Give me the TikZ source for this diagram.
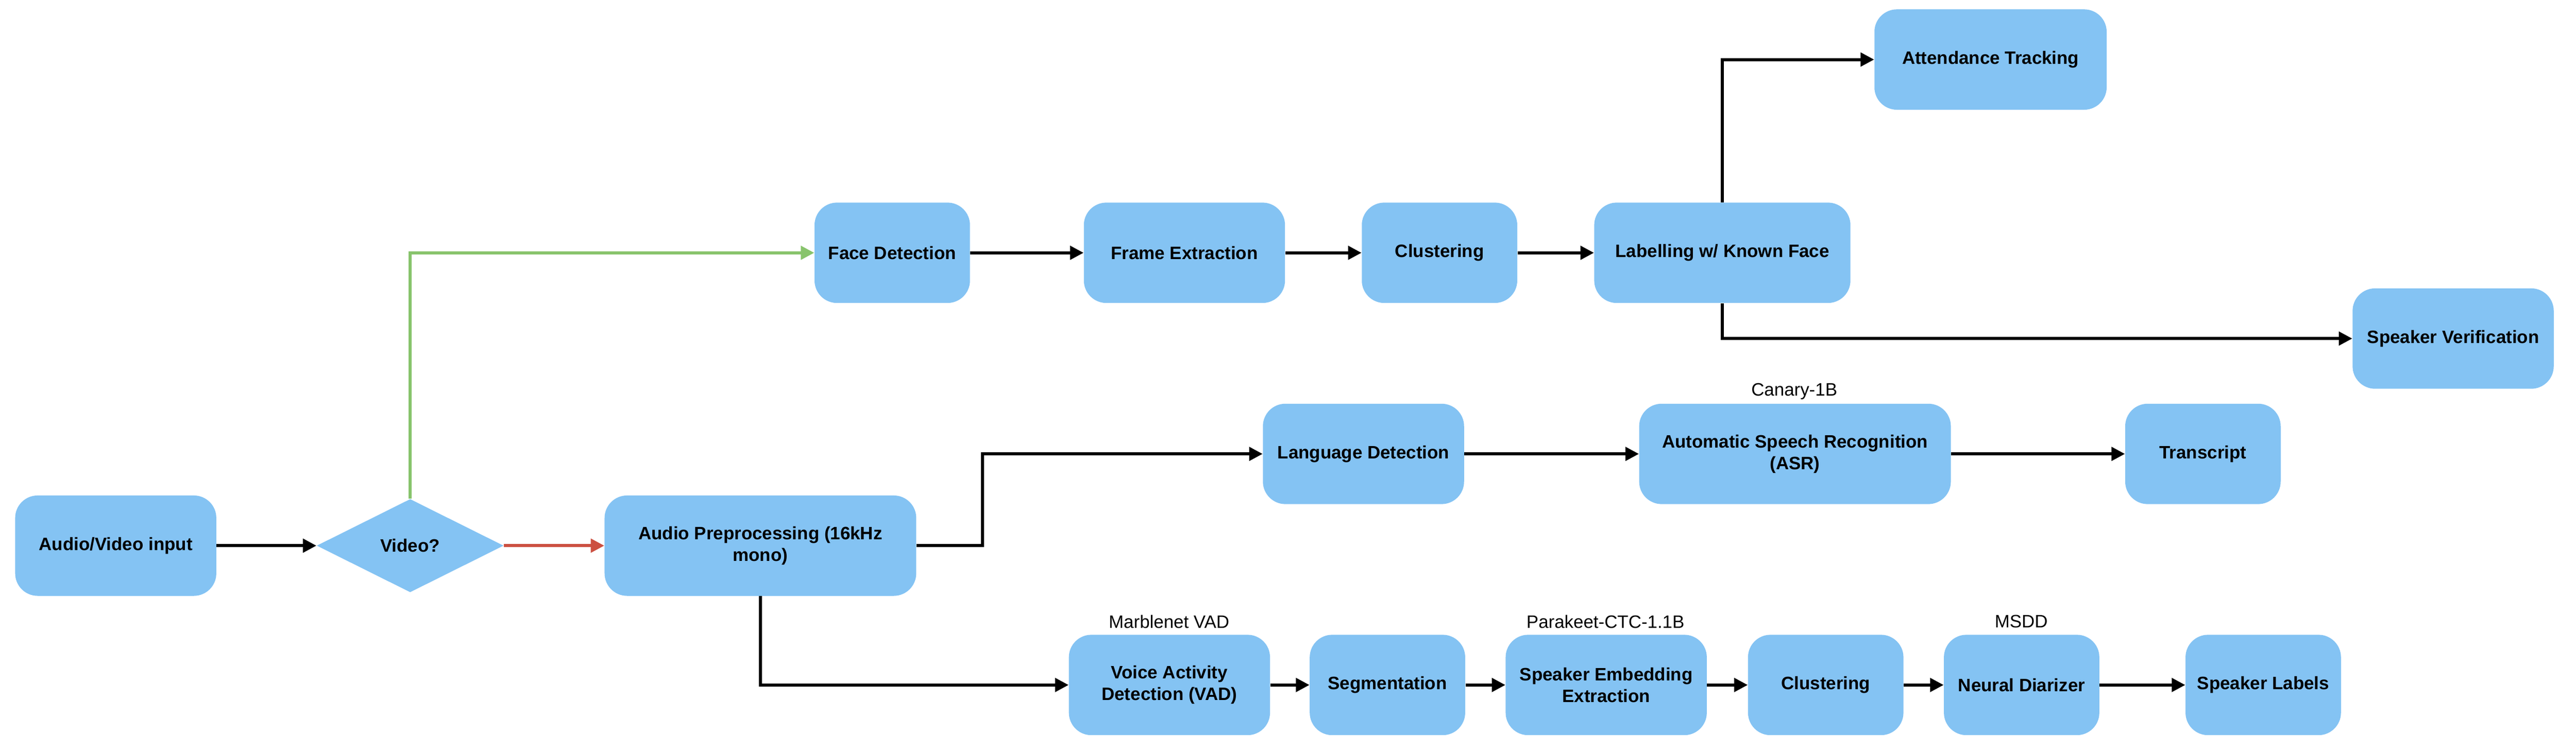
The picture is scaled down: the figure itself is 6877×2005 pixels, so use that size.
\documentclass[tikz,border=0pt]{standalone}
\usepackage{fontspec}
\setmainfont{Liberation Sans}
\usetikzlibrary{arrows.meta,shapes.geometric}
\definecolor{boxblue}{HTML}{84C3F3}
\definecolor{arrred}{HTML}{CC5041}
\definecolor{arrgreen}{HTML}{88C46C}
\tikzset{
  proc/.style={fill=boxblue, rounded corners=15pt, inner sep=0pt, align=center,
    minimum height=67pt, font=\fontsize{12pt}{14.5pt}\selectfont\bfseries},
  wA/.style={minimum width=103.75pt},
  wB/.style={minimum width=134.25pt},
  wC/.style={minimum width=171pt},
  wD/.style={minimum width=208pt},
  decision/.style={diamond, fill=boxblue, inner sep=0pt, minimum width=124.75pt,
    minimum height=62.25pt, font=\fontsize{12pt}{14.5pt}\selectfont\bfseries},
  note/.style={inner sep=0pt, font=\fontsize{12pt}{14.5pt}\selectfont},
  conn/.style={line width=2pt, -{Triangle[length=9pt,width=9pt]}},
}
\begin{document}
\begin{tikzpicture}[x=0.25pt, y=-0.25pt]
\useasboundingbox (0,0) rectangle (6877,2005);
% nodes
\node[proc,wB] (inp) at (309,1457) {Audio/Video input};
\node[decision] (dia) at (1095,1457) {Video?};
\node[proc,wD] (pre) at (2030,1457) {Audio Preprocessing (16kHz\\mono)};
\node[proc,wA] (face) at (2382,675) {Face Detection};
\node[proc,wB] (frame) at (3162,675) {Frame Extraction};
\node[proc,wA] (clus1) at (3843,675) {Clustering};
\node[proc,wC] (lab) at (4598,675) {Labelling w/ Known Face};
\node[proc,minimum width=155pt] (att) at (5314,159) {Attendance Tracking};
\node[proc,wB] (ver) at (6549,904) {Speaker Verification};
\node[proc,wB] (lang) at (3640,1212) {Language Detection};
\node[proc,wD] (asr) at (4792,1212) {Automatic Speech Recognition\\(ASR)};
\node[note] (asrn) at (4790,1045) {Canary-1B};
\node[proc,wA] (trans) at (5881,1212) {Transcript};
\node[proc,wB] (vad) at (3122,1829) {Voice Activity\\Detection (VAD)};
\node[note] (vadn) at (3121,1660) {Marblenet VAD};
\node[proc,wA] (seg) at (3704,1829) {Segmentation};
\node[proc,wB] (emb) at (4288,1829) {Speaker Embedding\\Extraction};
\node[note] (embn) at (4286,1660) {Parakeet-CTC-1.1B};
\node[proc,wA] (clus2) at (4874,1829) {Clustering};
\node[proc,wA] (neu) at (5397,1829) {Neural Diarizer};
\node[note] (neun) at (5396,1660) {MSDD};
\node[proc,wA] (spk) at (6042,1829) {Speaker Labels};
% connectors
\draw[conn] (inp) -- (dia);
\draw[conn, arrred] (dia) -- (pre);
\draw[conn, arrgreen] (dia.north) |- (face.west);
\draw[conn] (face) -- (frame);
\draw[conn] (frame) -- (clus1);
\draw[conn] (clus1) -- (lab);
\draw[conn] (lab.north) |- (att.west);
\draw[conn] (lab.south) |- (ver.west);
\draw[conn] (pre.east) -- ++(176,0) |- (lang.west);
\draw[conn] (lang) -- (asr);
\draw[conn] (asr) -- (trans);
\draw[conn] (pre.south) |- (vad.west);
\draw[conn] (vad) -- (seg);
\draw[conn] (seg) -- (emb);
\draw[conn] (emb) -- (clus2);
\draw[conn] (clus2) -- (neu);
\draw[conn] (neu) -- (spk);
\end{tikzpicture}
\end{document}
